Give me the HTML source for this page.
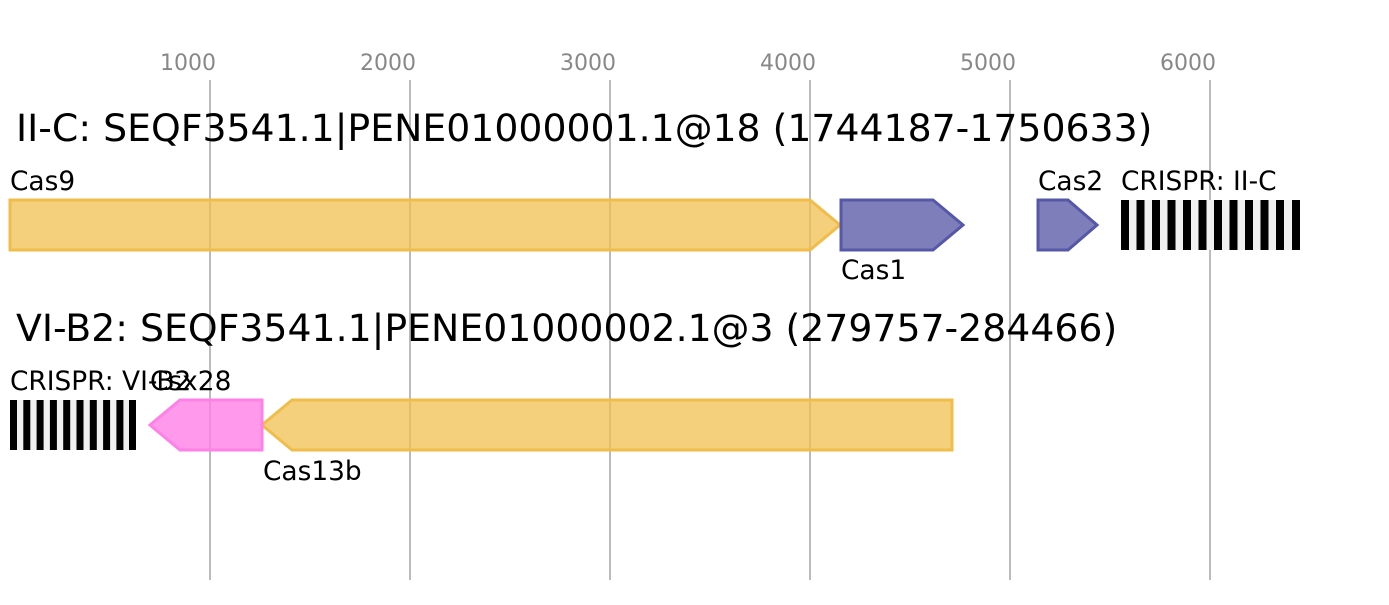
<!DOCTYPE html>
<html><head><style>body{margin:0;background:#fff}</style></head><body>
<svg width="1389" height="600" xmlns="http://www.w3.org/2000/svg" font-family="DejaVu Sans, Liberation Sans, sans-serif">
<rect width="1389" height="600" fill="#fff"/>
<g stroke="#bbb" stroke-width="2">
<line x1="210" y1="80" x2="210" y2="580"/><line x1="410" y1="80" x2="410" y2="580"/>
<line x1="610" y1="80" x2="610" y2="580"/><line x1="810" y1="80" x2="810" y2="580"/>
<line x1="1010" y1="80" x2="1010" y2="580"/><line x1="1210" y1="80" x2="1210" y2="580"/>
</g>
<g fill="#888" font-size="22" text-anchor="middle">
<text x="188" y="70">1000</text><text x="388" y="70">2000</text><text x="588" y="70">3000</text>
<text x="788" y="70">4000</text><text x="988" y="70">5000</text><text x="1188" y="70">6000</text>
</g>
<text x="16" y="141" font-size="37.8">II-C: SEQF3541.1|PENE01000001.1@18 (1744187-1750633)</text>
<text x="16" y="341" font-size="37.8">VI-B2: SEQF3541.1|PENE01000002.1@3 (279757-284466)</text>
<g stroke-width="3" stroke-linejoin="miter">
<polygon points="10,200 810,200 840,225 810,250 10,250" fill="#f0c050" fill-opacity="0.75" stroke="#f0bd4a"/>
<polygon points="841,200 933,200 963,225 933,250 841,250" fill="#5a5aa6" fill-opacity="0.78" stroke="#5558a8"/>
<polygon points="1038,200 1068,200 1097,225 1068,250 1038,250" fill="#5a5aa6" fill-opacity="0.78" stroke="#5558a8"/>
<polygon points="292,400 952,400 952,450 292,450 262,425" fill="#f0c050" fill-opacity="0.75" stroke="#f0bd4a"/>
<polygon points="180,400 262,400 262,450 180,450 150,425" fill="#ff80e6" fill-opacity="0.8" stroke="#ff80e6"/>
</g>
<rect x="1121" y="200" width="179" height="50" fill="#f0f0f0"/>
<g fill="#000">
<rect x="1121" y="200" width="8" height="50"/><rect x="1136.5" y="200" width="8" height="50"/><rect x="1152" y="200" width="8" height="50"/><rect x="1167.5" y="200" width="8" height="50"/><rect x="1183" y="200" width="8" height="50"/><rect x="1198.5" y="200" width="8" height="50"/><rect x="1214" y="200" width="8" height="50"/><rect x="1229.5" y="200" width="8" height="50"/><rect x="1245" y="200" width="8" height="50"/><rect x="1260.5" y="200" width="8" height="50"/><rect x="1276" y="200" width="8" height="50"/><rect x="1292" y="200" width="8" height="50"/>
</g>
<rect x="10" y="400" width="126" height="50" fill="#f0f0f0"/>
<g fill="#000">
<rect x="10" y="400" width="7" height="50"/><rect x="23.3" y="400" width="7" height="50"/><rect x="36.6" y="400" width="7" height="50"/><rect x="49.9" y="400" width="7" height="50"/><rect x="63.2" y="400" width="7" height="50"/><rect x="76.5" y="400" width="7" height="50"/><rect x="89.8" y="400" width="7" height="50"/><rect x="103.1" y="400" width="7" height="50"/><rect x="116.4" y="400" width="7" height="50"/><rect x="129" y="400" width="7" height="50"/>
</g>
<g font-size="26.4" fill="#000">
<text x="10" y="190">Cas9</text><text x="841" y="279">Cas1</text><text x="1038" y="190">Cas2</text>
<text x="1121" y="190">CRISPR: II-C</text>
<text x="10" y="390">CRISPR: VI-B2</text><text x="150" y="390">Csx28</text><text x="263" y="480">Cas13b</text>
</g>
</svg>
</body></html>
